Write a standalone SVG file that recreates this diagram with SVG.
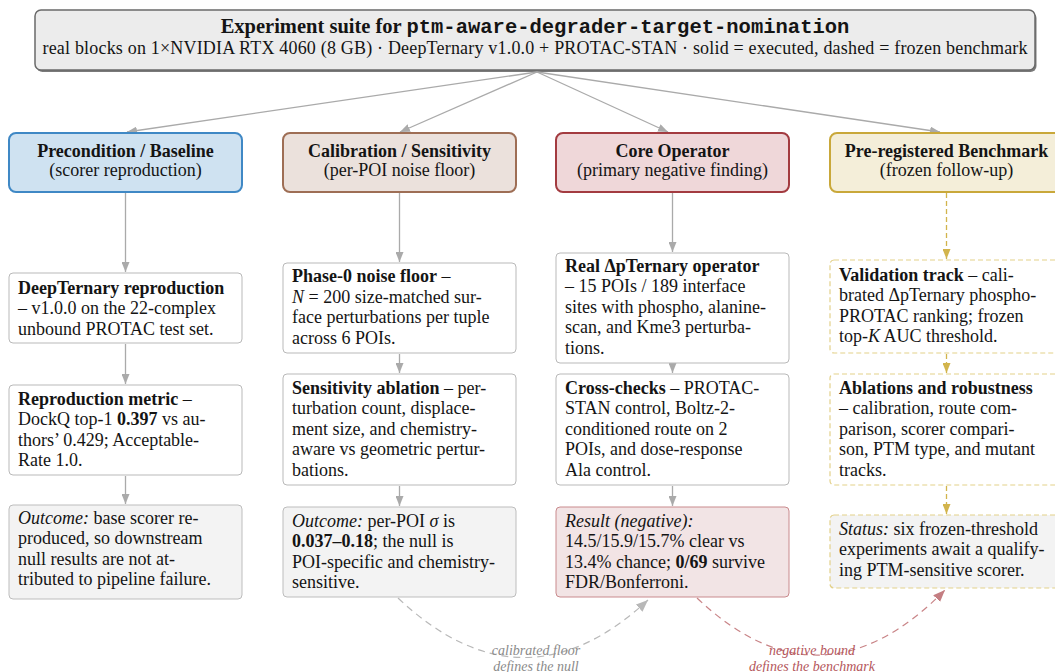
<svg xmlns="http://www.w3.org/2000/svg" width="1055" height="672" viewBox="0 0 1055 672">
<defs>
<style>
.t{font-family:"Liberation Serif","Times New Roman",serif;font-size:18px;fill:#141414}
.hd{font-family:"Liberation Serif","Times New Roman",serif;font-size:18px;fill:#141414;text-anchor:middle}
.b{font-weight:bold}
.i{font-style:italic}
.mono{font-family:"Liberation Mono","Courier New",monospace;font-weight:bold}
.box{fill:#ffffff;stroke:#b9b9b9;stroke-width:1}
.out{fill:#f3f3f3;stroke:#bdbdbd;stroke-width:1}
.fbox{fill:#ffffff;stroke:#e3d18a;stroke-width:1.2;stroke-dasharray:5 3}
.fout{fill:#f3f3f3;stroke:#e3d18a;stroke-width:1.2;stroke-dasharray:5 3}
.g{fill:none;stroke:#aaaaaa;stroke-width:1.3}
.gd{fill:none;stroke:#d2b44c;stroke-width:1.3;stroke-dasharray:5 3}
.cv1{fill:none;stroke:#b8b8b8;stroke-width:1.2;stroke-dasharray:7 5}
.cv2{fill:none;stroke:#c98487;stroke-width:1.2;stroke-dasharray:7 5}
.lbl{font-family:"Liberation Serif","Times New Roman",serif;font-size:14px;font-style:italic;text-anchor:middle}
</style>
<marker id="ag" viewBox="0 0 10 8" refX="10" refY="4" markerWidth="10" markerHeight="8" markerUnits="userSpaceOnUse" orient="auto"><path d="M0,0 L10,4 L0,8 z" fill="#aaaaaa"/></marker>
<marker id="ay" viewBox="0 0 10 8" refX="10" refY="4" markerWidth="10" markerHeight="8" markerUnits="userSpaceOnUse" orient="auto"><path d="M0,0 L10,4 L0,8 z" fill="#d2b44c"/></marker>
<marker id="ar" viewBox="0 0 10 8" refX="10" refY="4" markerWidth="12" markerHeight="10" markerUnits="userSpaceOnUse" orient="auto"><path d="M0,0 L10,4 L0,8 z" fill="#c47e82"/></marker>
<marker id="ag2" viewBox="0 0 10 8" refX="10" refY="4" markerWidth="12" markerHeight="10" markerUnits="userSpaceOnUse" orient="auto"><path d="M0,0 L10,4 L0,8 z" fill="#b8b8b8"/></marker>
</defs>
<rect width="1055" height="672" fill="#ffffff"/>

<g id="title">
<rect x="36.5" y="12" width="1000" height="60" rx="6" fill="#7a7a7a"/>
<rect x="35" y="10" width="1000" height="60" rx="6" fill="#ececec" stroke="#6a6a6a" stroke-width="1.5"/>
<text class="hd b" x="535" y="33" style="font-size:20.5px">Experiment suite for <tspan class="mono">ptm-aware-degrader-target-nomination</tspan></text>
<text class="hd" x="535" y="54" style="font-size:18px" textLength="985" lengthAdjust="spacing">real blocks on 1×NVIDIA RTX 4060 (8 GB) · DeepTernary v1.0.0 + PROTAC-STAN · solid = executed, dashed = frozen benchmark</text>
</g>

<g id="connectors">
<line class="g" x1="537" y1="72" x2="127" y2="132" marker-end="url(#ag)"/>
<line class="g" x1="537" y1="72" x2="400" y2="132" marker-end="url(#ag)"/>
<line class="g" x1="537" y1="72" x2="668" y2="132" marker-end="url(#ag)"/>
<line class="g" x1="537" y1="72" x2="940" y2="132" marker-end="url(#ag)"/>
<line class="g" x1="125.5" y1="193" x2="125.5" y2="272" marker-end="url(#ag)"/>
<line class="g" x1="125.5" y1="344" x2="125.5" y2="384" marker-end="url(#ag)"/>
<line class="g" x1="125.5" y1="476" x2="125.5" y2="504" marker-end="url(#ag)"/>
<line class="g" x1="399.5" y1="193" x2="399.5" y2="262" marker-end="url(#ag)"/>
<line class="g" x1="399.5" y1="354" x2="399.5" y2="373" marker-end="url(#ag)"/>
<line class="g" x1="399.5" y1="486" x2="399.5" y2="506" marker-end="url(#ag)"/>
<line class="g" x1="672.5" y1="193" x2="672.5" y2="252" marker-end="url(#ag)"/>
<line class="g" x1="672.5" y1="364" x2="672.5" y2="373" marker-end="url(#ag)"/>
<line class="g" x1="672.5" y1="486" x2="672.5" y2="506" marker-end="url(#ag)"/>
<line class="gd" x1="946.5" y1="193" x2="946.5" y2="259" marker-end="url(#ay)"/>
<line class="gd" x1="946.5" y1="354" x2="946.5" y2="373" marker-end="url(#ay)"/>
<line class="gd" x1="946.5" y1="486" x2="946.5" y2="514" marker-end="url(#ay)"/>
<path class="cv1" d="M398,598 Q523,716 648,600" marker-end="url(#ag2)"/>
<path class="cv2" d="M697,598 Q821,716 945,590" marker-end="url(#ar)"/>
<text class="lbl" x="536" y="655" fill="#8a8a8a">calibrated floor</text>
<text class="lbl" x="536" y="671" fill="#8a8a8a">defines the null</text>
<text class="lbl" x="812" y="655" fill="#b4565b">negative bound</text>
<text class="lbl" x="812" y="671" fill="#b4565b">defines the benchmark</text>
</g>

<g id="h1">
<rect x="9" y="133" width="233" height="59" rx="7" fill="#cfe2f1" stroke="#3f88c5" stroke-width="2"/>
<text class="hd b" x="125.5" y="157">Precondition / Baseline</text>
<text class="hd" x="125.5" y="176">(scorer reproduction)</text>
</g>
<g id="h2">
<rect x="283" y="133" width="233" height="59" rx="7" fill="#ebe1dc" stroke="#9e6e55" stroke-width="2"/>
<text class="hd b" x="399.5" y="157">Calibration / Sensitivity</text>
<text class="hd" x="399.5" y="176">(per-POI noise floor)</text>
</g>
<g id="h3">
<rect x="556" y="133" width="233" height="59" rx="7" fill="#efd7d9" stroke="#a33b40" stroke-width="2"/>
<text class="hd b" x="672.5" y="157">Core Operator</text>
<text class="hd" x="672.5" y="176">(primary negative finding)</text>
</g>
<g id="h4">
<rect x="830" y="133" width="233" height="59" rx="7" fill="#f4eed9" stroke="#c9a83a" stroke-width="2"/>
<text class="hd b" x="946.5" y="157">Pre-registered Benchmark</text>
<text class="hd" x="946.5" y="176">(frozen follow-up)</text>
</g>

<g id="n1a">
<rect class="box" x="9" y="273" width="233" height="70" rx="4"/>
<text class="t" x="18" y="294"><tspan class="b">DeepTernary reproduction</tspan><tspan x="18" y="314">– v1.0.0 on the 22-complex</tspan><tspan x="18" y="335">unbound PROTAC test set.</tspan></text>
</g>
<g id="n1b">
<rect class="box" x="9" y="385" width="233" height="90" rx="4"/>
<text class="t" x="18" y="405"><tspan class="b">Reproduction metric</tspan> –<tspan x="18" y="425">DockQ top-1 <tspan class="b">0.397</tspan> vs au-</tspan><tspan x="18" y="446">thors’ 0.429; Acceptable-</tspan><tspan x="18" y="466">Rate 1.0.</tspan></text>
</g>
<g id="n1c">
<rect class="out" x="9" y="505" width="233" height="94" rx="4"/>
<text class="t" x="18" y="524"><tspan class="i">Outcome:</tspan> base scorer re-<tspan x="18" y="544">produced, so downstream</tspan><tspan x="18" y="565">null results are not at-</tspan><tspan x="18" y="585">tributed to pipeline failure.</tspan></text>
</g>

<g id="n2a">
<rect class="box" x="283" y="263" width="233" height="90" rx="4"/>
<text class="t" x="292" y="282"><tspan class="b">Phase-0 noise floor</tspan> –<tspan x="292" y="303"><tspan class="i">N</tspan> = 200 size-matched sur-</tspan><tspan x="292" y="323">face perturbations per tuple</tspan><tspan x="292" y="344">across 6 POIs.</tspan></text>
</g>
<g id="n2b">
<rect class="box" x="283" y="374" width="233" height="111" rx="4"/>
<text class="t" x="292" y="394"><tspan class="b">Sensitivity ablation</tspan> – per-<tspan x="292" y="414">turbation count, displace-</tspan><tspan x="292" y="435">ment size, and chemistry-</tspan><tspan x="292" y="455">aware vs geometric pertur-</tspan><tspan x="292" y="476">bations.</tspan></text>
</g>
<g id="n2c">
<rect class="out" x="283" y="507" width="233" height="90" rx="4"/>
<text class="t" x="292" y="527"><tspan class="i">Outcome:</tspan> per-POI <tspan class="i">σ</tspan> is<tspan x="292" y="547"><tspan class="b">0.037–0.18</tspan>; the null is</tspan><tspan x="292" y="568">POI-specific and chemistry-</tspan><tspan x="292" y="588">sensitive.</tspan></text>
</g>

<g id="n3a">
<rect class="box" x="556" y="253" width="233" height="110" rx="4"/>
<text class="t" x="565" y="272"><tspan class="b">Real ΔpTernary operator</tspan><tspan x="565" y="292">– 15 POIs / 189 interface</tspan><tspan x="565" y="313">sites with phospho, alanine-</tspan><tspan x="565" y="333">scan, and Kme3 perturba-</tspan><tspan x="565" y="354">tions.</tspan></text>
</g>
<g id="n3b">
<rect class="box" x="556" y="374" width="233" height="111" rx="4"/>
<text class="t" x="565" y="394"><tspan class="b">Cross-checks</tspan> – PROTAC-<tspan x="565" y="414">STAN control, Boltz-2-</tspan><tspan x="565" y="435">conditioned route on 2</tspan><tspan x="565" y="455">POIs, and dose-response</tspan><tspan x="565" y="476">Ala control.</tspan></text>
</g>
<g id="n3c">
<rect x="556" y="507" width="233" height="90" rx="4" fill="#f2e4e5" stroke="#c98a8d" stroke-width="1"/>
<text class="t" x="565" y="527"><tspan class="i">Result (negative):</tspan><tspan x="565" y="547">14.5/15.9/15.7% clear vs</tspan><tspan x="565" y="568">13.4% chance; <tspan class="b">0/69</tspan> survive</tspan><tspan x="565" y="588">FDR/Bonferroni.</tspan></text>
</g>

<g id="n4a">
<rect class="fbox" x="830" y="260" width="233" height="93" rx="4"/>
<text class="t" x="839" y="281"><tspan class="b">Validation track</tspan> – cali-<tspan x="839" y="301">brated ΔpTernary phospho-</tspan><tspan x="839" y="322">PROTAC ranking; frozen</tspan><tspan x="839" y="342">top-<tspan class="i">K</tspan> AUC threshold.</tspan></text>
</g>
<g id="n4b">
<rect class="fbox" x="830" y="374" width="233" height="111" rx="4"/>
<text class="t" x="839" y="394"><tspan class="b">Ablations and robustness</tspan><tspan x="839" y="414">– calibration, route com-</tspan><tspan x="839" y="435">parison, scorer compari-</tspan><tspan x="839" y="455">son, PTM type, and mutant</tspan><tspan x="839" y="476">tracks.</tspan></text>
</g>
<g id="n4c">
<rect class="fout" x="830" y="515" width="233" height="73" rx="4"/>
<text class="t" x="839" y="535"><tspan class="i">Status:</tspan> six frozen-threshold<tspan x="839" y="555">experiments await a qualify-</tspan><tspan x="839" y="576">ing PTM-sensitive scorer.</tspan></text>
</g>
</svg>
